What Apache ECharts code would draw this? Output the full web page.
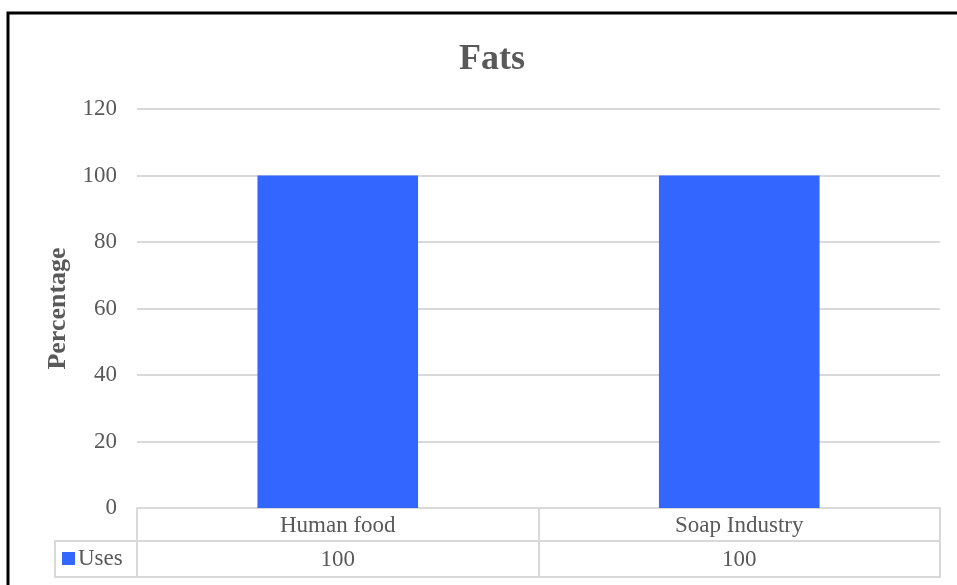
<!DOCTYPE html>
<html>
<head>
<meta charset="utf-8">
<title>Fats</title>
<script src="https://cdn.jsdelivr.net/npm/echarts@6/dist/echarts.min.js"></script>
<style>
  html, body { margin: 0; padding: 0; background: #ffffff; }
  #chart { width: 957px; height: 585px; }
</style>
</head>
<body>
<div id="chart"></div>
<script>
// Chart data
const categories = ['Human food', 'Soap Industry'];
const seriesName = 'Uses';
const usesValues = [100, 100];
const yTicks = { min: 0, max: 120, interval: 20 };

// Layout
const GRID = { left: 137, right: 17, top: 109, bottom: 77 };
const ROW_H = 33;        // data-table row height
const TABLE_H = 69;      // full table height under the plot
const LEGEND_CELL_LEFT = 55;

const FONT = '"Liberation Serif", "Times New Roman", serif';
const TEXT = '#595959';
const LINE = '#d9d9d9';
const BAR = '#3366ff';

const chart = echarts.init(document.getElementById('chart'), null, { renderer: 'canvas' });

const H = 585;
const axisY = H - GRID.bottom;

chart.setOption({
  animation: false,
  backgroundColor: '#ffffff',
  textStyle: { fontFamily: FONT },
  title: {
    text: 'Fats',
    left: 454,
    top: 37,
    textStyle: { fontFamily: FONT, fontSize: 36, fontWeight: 'bold', color: TEXT }
  },
  legend: {
    data: [seriesName],
    left: 62,
    top: 547,
    padding: 0,
    icon: 'rect',
    itemWidth: 13,
    itemHeight: 13,
    itemGap: 4,
    selectedMode: false,
    textStyle: { fontFamily: FONT, fontSize: 23, color: TEXT, padding: [0, 0, 0, -2] }
  },
  grid: { left: GRID.left, right: GRID.right, top: GRID.top, bottom: GRID.bottom, containLabel: false },
  xAxis: [
    {
      type: 'category',
      data: categories,
      position: 'bottom',
      boundaryGap: true,
      axisLine: { show: true, lineStyle: { color: LINE, width: 2 } },
      axisTick: { show: true, interval: 0, alignWithLabel: false, length: TABLE_H, lineStyle: { color: LINE, width: 2 } },
      axisLabel: { margin: 6, fontFamily: FONT, fontSize: 23, color: TEXT, interval: 0 }
    },
    {
      type: 'category',
      data: usesValues.map(String),
      position: 'bottom',
      offset: ROW_H,
      boundaryGap: true,
      axisLine: { show: true, lineStyle: { color: LINE, width: 2 } },
      axisTick: { show: false },
      axisLabel: { margin: 7, fontFamily: FONT, fontSize: 23, color: TEXT, interval: 0 }
    },
    {
      type: 'category',
      data: categories,
      position: 'bottom',
      offset: TABLE_H,
      axisLine: { show: true, lineStyle: { color: LINE, width: 2 } },
      axisTick: { show: false },
      axisLabel: { show: false }
    }
  ],
  yAxis: {
    type: 'value',
    min: yTicks.min,
    max: yTicks.max,
    interval: yTicks.interval,
    name: 'Percentage',
    nameLocation: 'middle',
    nameGap: 63,
    nameTextStyle: { fontFamily: FONT, fontSize: 26, fontWeight: 'bold', color: TEXT },
    axisLine: { show: false },
    axisTick: { show: false },
    axisLabel: { margin: 20, fontFamily: FONT, fontSize: 23, color: TEXT },
    splitLine: { lineStyle: { color: LINE, width: 2 } }
  },
  series: [
    {
      name: seriesName,
      type: 'bar',
      xAxisIndex: 0,
      data: usesValues,
      barWidth: '40%',
      itemStyle: { color: BAR }
    }
  ],
  graphic: [
    // outer frame
    {
      type: 'rect',
      shape: { x: 8, y: 13, width: 1200, height: 1200 },
      style: { fill: 'none', stroke: '#000000', lineWidth: 3 },
      silent: true
    },
    // legend-key cell of the data table
    {
      type: 'polyline',
      shape: {
        points: [
          [GRID.left, axisY + ROW_H],
          [LEGEND_CELL_LEFT, axisY + ROW_H],
          [LEGEND_CELL_LEFT, axisY + TABLE_H],
          [GRID.left, axisY + TABLE_H]
        ]
      },
      style: { fill: 'none', stroke: LINE, lineWidth: 2 },
      silent: true
    }
  ]
});
</script>
</body>
</html>
